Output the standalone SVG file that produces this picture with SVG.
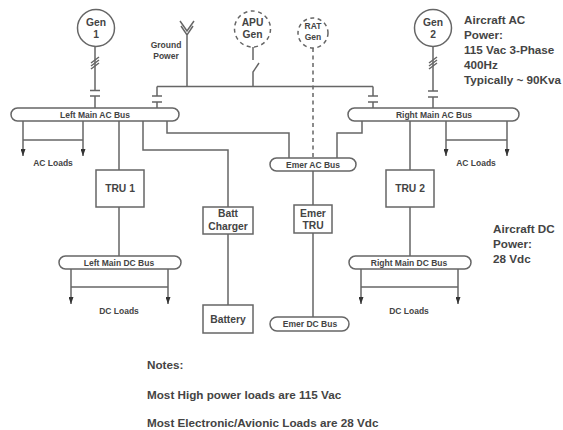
<svg xmlns="http://www.w3.org/2000/svg" width="563" height="430" viewBox="0 0 563 430">
<defs>
<style>
text{font-family:"Liberation Sans",Arial,sans-serif;font-weight:bold;fill:#444;text-anchor:middle}
.c{fill:none;stroke:#666;stroke-width:1.5}
.n{fill:#fff;stroke:#666;stroke-width:1.5}
.d{stroke-dasharray:4 3.5}
.s{font-size:8.500px}
.m{font-size:10.300px}
.l{font-size:11.700px;text-anchor:start}
.a{fill:#333;stroke:none}
</style>
<marker id="arr" markerUnits="userSpaceOnUse" markerWidth="7" markerHeight="5" refX="7" refY="2.500" orient="auto" viewBox="0 0 7 5"><path d="M0 0L7 2.500L0 5Z" class="a"/></marker>
</defs>
<rect width="563" height="430" fill="#fff"/>
<g id="connectors">
<path class="c" d="M95 47V90M95 96V108M157 86.500H373M157 86.500V96M157 102V108M373 86.500V96M373 102V108M433 47V91M433 97V108"/>
<path class="c" d="M90 90.500H100M90 96H100M152 96H162M152 102H162M368 96H378M368 102H378M428 91H438M428 97H438"/>
<path class="c" d="M91 66L99 60M91 69L99 63M91 63L99 57M429 66L437 60M429 69L437 63M429 63L437 57"/>
<path class="c" d="M187 86.500V35M180 21L187 31L194 21M181 26L187 35L193 26"/>
<path class="c" d="M253 47V60M253 86.500V72L259 63"/>
<path class="c d" d="M313 48V158"/>
<path class="c" d="M167 121V133H289V158M362 121V133H337V158M143 121V150H228V207M228 234V305M119 121V170M119 207V256M410 121V170M410 207V256M313 171V205M313 233V317"/>
<path class="c" marker-end="url(#arr)" d="M23 121V156"/><path class="c" marker-end="url(#arr)" d="M83 121V156"/><path class="c" d="M23 140H83"/>
<path class="c" marker-end="url(#arr)" d="M446 121V156"/><path class="c" marker-end="url(#arr)" d="M507 121V156"/><path class="c" d="M446 140H507"/>
<path class="c" marker-end="url(#arr)" d="M71 269V304"/><path class="c" marker-end="url(#arr)" d="M168 269V304"/><path class="c" d="M71 287H168"/>
<path class="c" marker-end="url(#arr)" d="M361 269V304"/><path class="c" marker-end="url(#arr)" d="M458 269V304"/><path class="c" d="M361 287H458"/>
</g>
<g id="gen1"><circle class="n" cx="96" cy="28" r="18.500"/><text class="m" x="96" y="26">Gen</text><text class="m" x="96" y="38">1</text></g>
<g id="gen2"><circle class="n" cx="433" cy="28" r="18.500"/><text class="m" x="433" y="26">Gen</text><text class="m" x="433" y="38">2</text></g>
<g id="apu"><circle class="n d" cx="252.500" cy="29" r="18"/><text class="m" x="252.500" y="26">APU</text><text class="m" x="252.500" y="38">Gen</text></g>
<g id="rat"><circle class="n d" cx="313" cy="33" r="15"/><text class="s" x="313" y="29">RAT</text><text class="s" x="313" y="40">Gen</text></g>
<g id="ground-label"><text class="s" x="166" y="48">Ground</text><text class="s" x="166" y="58.500">Power</text></g>
<g id="left-ac"><rect class="n" x="11" y="108" width="168" height="13" rx="6.500"/><text class="s" x="95" y="117.500">Left Main AC Bus</text></g>
<g id="right-ac"><rect class="n" x="348" y="108" width="171" height="13" rx="6.500"/><text class="s" x="434" y="117.500">Right Main AC Bus</text></g>
<g id="emer-ac"><rect class="n" x="270" y="158" width="86" height="13" rx="6.500"/><text class="s" x="313" y="167.500">Emer AC Bus</text></g>
<g id="tru1"><rect class="n" x="96" y="170" width="48" height="37"/><text class="m" x="120" y="192">TRU 1</text></g>
<g id="tru2"><rect class="n" x="386" y="170" width="48" height="37"/><text class="m" x="410" y="192">TRU 2</text></g>
<g id="charger"><rect class="n" x="203" y="207" width="50" height="27"/><text class="m" x="228" y="217">Batt</text><text class="m" x="228" y="230">Charger</text></g>
<g id="etru"><rect class="n" x="294" y="205" width="38" height="28"/><text class="m" x="313" y="217">Emer</text><text class="m" x="313" y="229">TRU</text></g>
<g id="left-dc"><rect class="n" x="59" y="256" width="122" height="13" rx="6.500"/><text class="s" x="119" y="265.500">Left Main DC Bus</text></g>
<g id="right-dc"><rect class="n" x="349" y="256" width="122" height="13" rx="6.500"/><text class="s" x="409" y="265.500">Right Main DC Bus</text></g>
<g id="battery"><rect class="n" x="203" y="305" width="50" height="28"/><text class="m" x="228" y="323">Battery</text></g>
<g id="emer-dc"><rect class="n" x="270" y="317" width="79" height="14" rx="7"/><text class="s" x="310" y="327">Emer DC Bus</text></g>
<g id="labels">
<text class="s" x="53" y="166">AC Loads</text><text class="s" x="476" y="166">AC Loads</text>
<text class="s" x="119" y="314">DC Loads</text><text class="s" x="409" y="314">DC Loads</text>
<text class="l" x="464" y="24">Aircraft AC</text><text class="l" x="464" y="39">Power:</text><text class="l" x="464" y="54">115 Vac 3-Phase</text><text class="l" x="464" y="69">400Hz</text><text class="l" x="464" y="84">Typically ~ 90Kva</text>
<text class="l" x="493" y="233">Aircraft DC</text><text class="l" x="493" y="248">Power:</text><text class="l" x="493" y="263">28 Vdc</text>
<text class="l" x="147" y="369">Notes:</text><text class="l" x="147" y="399">Most High power loads are 115 Vac</text><text class="l" x="147" y="427">Most Electronic/Avionic Loads are 28 Vdc</text>
</g>
</svg>
